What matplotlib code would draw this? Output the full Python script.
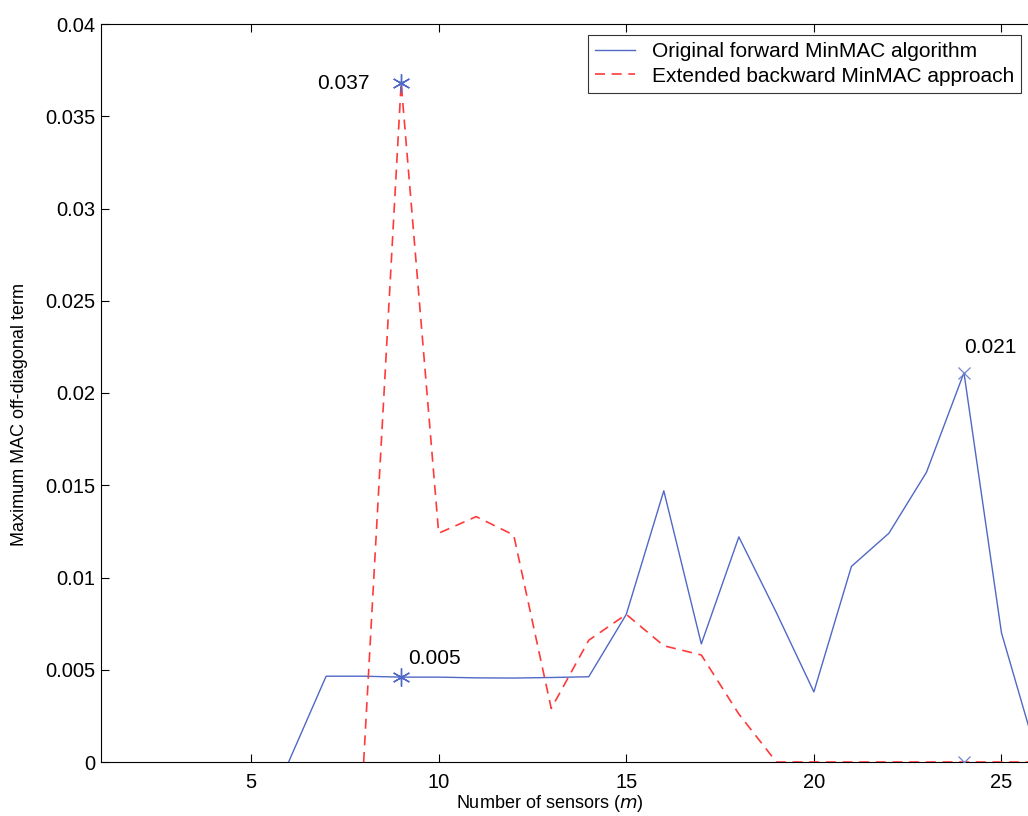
import matplotlib
matplotlib.use("Agg")
import matplotlib.pyplot as plt

plt.rcParams['font.family'] = ['Liberation Sans', 'DejaVu Sans']

# Number of sensors for each curve
forward_x = list(range(6, 27))
backward_x = list(range(8, 27))

# Maximum MAC off-diagonal term, original forward MinMAC algorithm
forward = [0,
           0.00465, 0.00465, 0.0046, 0.0046, 0.00456, 0.00455, 0.00458, 0.00462,
           0.0080, 0.0147, 0.0064, 0.0122, 0.0081, 0.0038,
           0.0106, 0.0124, 0.0157, 0.0211, 0.0070, 0.0]

# Maximum MAC off-diagonal term, extended backward MinMAC approach
backward = [0,
            0.0368, 0.0124, 0.0133, 0.0123, 0.0029, 0.0066, 0.0080,
            0.0063, 0.0058, 0.0026, 0, 0, 0, 0, 0, 0, 0, 0]

# Highlighted points and their labels
star_x = [9, 9]
star_y = [0.0368, 0.0046]
cross_x = [24, 24]
cross_y = [0.0211, 0.0]
note_text = ["0.037", "0.005", "0.021"]
note_x = [9, 9, 24]
note_y = [0.0368, 0.0046, 0.0211]

xticks = [5, 10, 15, 20, 25]
yticks = [0, 0.005, 0.01, 0.015, 0.02, 0.025, 0.03, 0.035, 0.04]
ytick_labels = ["0", "0.005", "0.01", "0.015", "0.02", "0.025", "0.03", "0.035", "0.04"]

blue = '#5068c6'
red = '#ff3a3a'

fig = plt.figure(figsize=(10.28, 8.16), dpi=100)
ax = fig.add_axes([101 / 1028, 54 / 816, 938 / 1028, 738 / 816])

ax.plot(forward_x, forward, color=blue, lw=1.0, zorder=3,
        label='Original forward MinMAC algorithm')
ax.plot(backward_x, backward, color=red, lw=1.2, ls=(0, (6, 4)), zorder=3,
        label='Extended backward MinMAC approach')
ax.plot(star_x, star_y, ls='none', marker=(6, 2, 0), ms=13, mew=1.0, color=blue, zorder=4)
ax.plot(star_x, star_y, ls='none', marker='.', ms=4, color=blue, zorder=4)
ax.plot(cross_x, cross_y, ls='none', marker='x', ms=9, mew=0.9, color='#6f84cc', zorder=4)

ax.annotate(note_text[0], (note_x[0], note_y[0]), xytext=(-23, 0),
            textcoords='offset points', fontsize=15, ha='right', va='center')
ax.annotate(note_text[1], (note_x[1], note_y[1]), xytext=(5, 9.5),
            textcoords='offset points', fontsize=15, ha='left', va='baseline')
ax.annotate(note_text[2], (note_x[2], note_y[2]), xytext=(0, 14.5),
            textcoords='offset points', fontsize=15, ha='left', va='baseline')

ax.set_xlim(1, 26)
ax.set_ylim(0, 0.04)
ax.set_xticks(xticks)
ax.set_yticks(yticks)
ax.set_yticklabels(ytick_labels)
ax.tick_params(direction='in', top=True, right=True, labelsize=14.5, length=6, width=0.8)
ax.tick_params(axis='y', pad=4)
ax.tick_params(axis='x', pad=8)
for s in ax.spines.values():
    s.set_linewidth(0.8)

ax.set_xlabel('Number of sensors ($\\it{m}$)', fontsize=13)
ax.set_ylabel('Maximum MAC off-diagonal term', fontsize=13)
ax.xaxis.set_label_coords((550 - 101) / 938, -(803 - 762) / 738)
ax.xaxis.label.set_va('center')
ax.yaxis.set_label_coords(-(101 - 20) / 938, (762 - 415) / 738)
ax.yaxis.label.set_va('center')

leg = ax.legend(loc='upper left', bbox_to_anchor=(588 / 1028, 1 - 35 / 816),
                bbox_transform=fig.transFigure, fontsize=15, frameon=True,
                fancybox=False, borderaxespad=0, handlelength=1.9,
                borderpad=0.35, labelspacing=0.25, handletextpad=0.8)
leg.get_frame().set_edgecolor('black')
leg.get_frame().set_linewidth(0.8)

fig.savefig('out.png', dpi=100)
